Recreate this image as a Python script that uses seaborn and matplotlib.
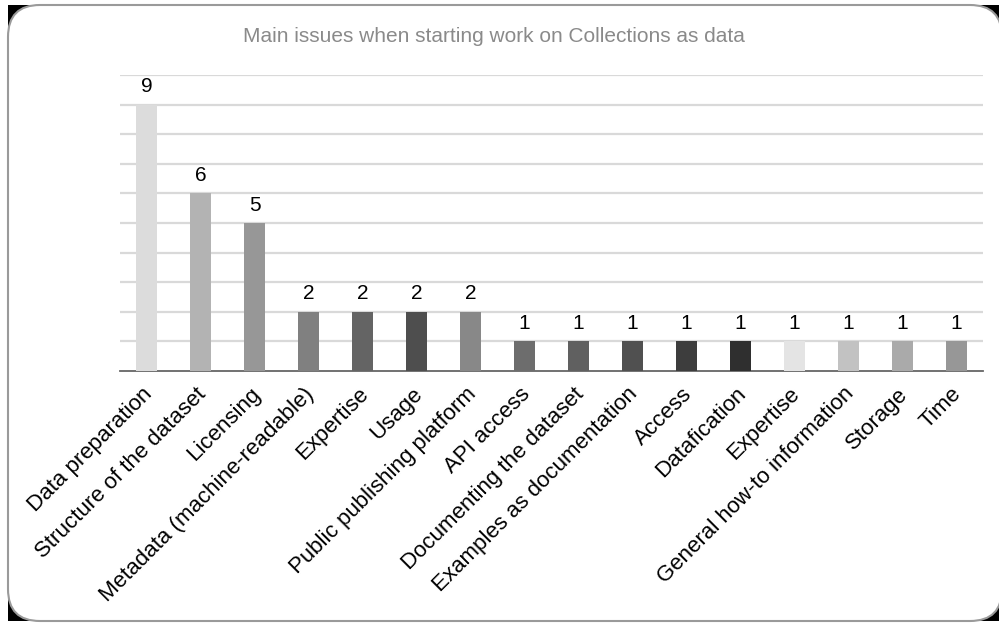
import matplotlib
matplotlib.use("Agg")
import matplotlib.pyplot as plt
from matplotlib.patches import FancyBboxPatch, Rectangle
from matplotlib.transforms import ScaledTranslation
import numpy as np
import pandas as pd
import seaborn as sns

title = "Main issues when starting work on Collections as data"
issues = [
    "Data preparation", "Structure of the dataset", "Licensing",
    "Metadata (machine-readable)", "Expertise", "Usage",
    "Public publishing platform", "API access", "Documenting the dataset",
    "Examples as documentation", "Access", "Datafication", "Expertise",
    "General how-to information", "Storage", "Time",
]
counts = [9, 6, 5, 2, 2, 2, 2, 1, 1, 1, 1, 1, 1, 1, 1, 1]
bar_colors = [
    "#dcdcdc", "#b3b3b3", "#979797", "#808080", "#646464", "#4e4e4e",
    "#888888", "#6d6d6d", "#606060", "#505050", "#3d3d3d", "#2f2f2f",
    "#e4e4e4", "#c2c2c2", "#aaaaaa", "#979797",
]

sns.set_theme(style="white")
plt.rcParams["font.family"] = ["Liberation Sans", "DejaVu Sans"]

W, H = 999, 623
fig = plt.figure(figsize=(W / 100, H / 100), dpi=100)
fig.patch.set_facecolor("white")

# rounded frame with dark corners
x0, y0 = 8 / W, 1 - 621 / H
x1, y1 = 1.003, 1 - 5 / H
fig.add_artist(Rectangle((x0, y0), x1 - x0, y1 - y0, transform=fig.transFigure,
                         facecolor="black", edgecolor="none", zorder=-3))
fig.add_artist(FancyBboxPatch((x0, y0), x1 - x0, y1 - y0,
                              boxstyle="round,pad=0,rounding_size=0.032",
                              mutation_aspect=W / H,
                              transform=fig.transFigure, facecolor="white",
                              edgecolor="#9a9a9a", linewidth=1.5, zorder=-2))

ax = fig.add_axes([120 / W, 1 - 371 / H, (983 - 120) / W, (371 - 75) / H])
ax.set_facecolor("none")

slots = [f"s{i}" for i in range(len(issues))]
df = pd.DataFrame({"slot": slots, "count": counts})
sns.barplot(data=df, x="slot", y="count", hue="slot", order=slots,
            hue_order=slots, palette=bar_colors, legend=False, width=0.39,
            saturation=1, ax=ax, zorder=3, edgecolor="none")

ax.set_ylim(0, 10)
ax.set_xlim(-0.5, len(issues) - 0.5)
for yv in range(1, 11):
    ax.axhline(yv, color="#d9d9d9", linewidth=1.6, zorder=1)

for i, c in enumerate(counts):
    ax.annotate(str(c), (i, c), xytext=(0, 6), textcoords="offset points",
                ha="center", va="bottom", fontsize=15, color="black")

ax.set_yticks([])
ax.set_xticks(range(len(issues)))
ax.set_xticklabels(issues, rotation=45, ha="right", rotation_mode="anchor",
                   fontsize=16, color="black")
ax.tick_params(axis="x", which="major", length=0, pad=9)
shift = ScaledTranslation(-5 / 100, 0, fig.dpi_scale_trans)
for lbl in ax.get_xticklabels():
    lbl.set_transform(lbl.get_transform() + shift)
ax.set_xticks(np.arange(-0.5, len(issues), 1.0), minor=True)
ax.tick_params(axis="x", which="minor", length=6, width=1.2, color="#555555",
               direction="out")
ax.set_xlabel("")
ax.set_ylabel("")
for side in ["top", "right", "left"]:
    ax.spines[side].set_visible(False)
ax.spines["bottom"].set_color("#666666")
ax.spines["bottom"].set_linewidth(1.3)

fig.text(494 / W, 1 - 37 / H, title, ha="center", va="center",
         fontsize=15, color="#8a8a8a")

fig.savefig("out.png", dpi=100, facecolor="white")
